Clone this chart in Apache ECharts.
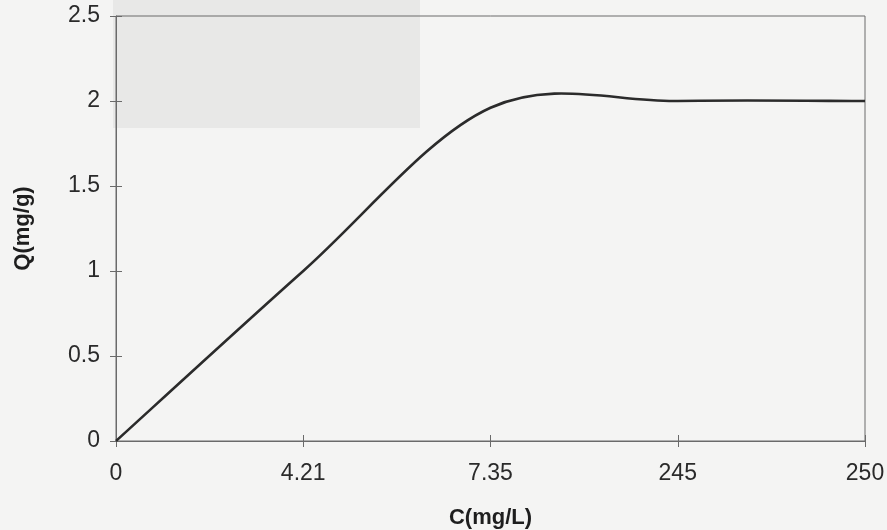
<!DOCTYPE html>
<html>
<head>
<meta charset="utf-8">
<script src="https://cdn.jsdelivr.net/npm/echarts@6/dist/echarts.min.js"></script>
<style>
  html, body { margin: 0; padding: 0; background: #f4f4f3; }
  #chart { width: 887px; height: 530px; }
</style>
</head>
<body>
<div id="chart"></div>
<script>
// concentraciones (eje x, categorias equiespaciadas)
var concentraciones = ['0', '4.21', '7.35', '245', '250'];
// capacidad de adsorcion Q (mg/g)
var qValores = [0, 1.0, 1.96, 2.0, 2.0];
var yTicks = [0, 0.5, 1, 1.5, 2, 2.5];

var chart = echarts.init(document.getElementById('chart'));
var fuente = '"Liberation Sans", Arial, sans-serif';
var gris = '#6a6a6a';

// curva suavizada tipo Excel (Catmull-Rom -> Bezier) sobre las coordenadas del eje
function renderCurva(params, api) {
    if (params.dataIndex !== 0) return null;
    var pts = qValores.map(function (v, i) { return api.coord([i, v]); });
    var d = 'M' + pts[0][0] + ' ' + pts[0][1];
    for (var i = 0; i < pts.length - 1; i++) {
        var p0 = pts[i - 1] || pts[i];
        var p1 = pts[i];
        var p2 = pts[i + 1];
        var p3 = pts[i + 2] || pts[i + 1];
        var c1x = p1[0] + (p2[0] - p0[0]) / 6, c1y = p1[1] + (p2[1] - p0[1]) / 6;
        var c2x = p2[0] - (p3[0] - p1[0]) / 6, c2y = p2[1] - (p3[1] - p1[1]) / 6;
        d += ' C' + c1x + ' ' + c1y + ' ' + c2x + ' ' + c2y + ' ' + p2[0] + ' ' + p2[1];
    }
    return {
        type: 'path',
        shape: { pathData: d },
        style: { fill: null, stroke: '#2b2b2b', lineWidth: 2.6 }
    };
}

chart.setOption({
    backgroundColor: '#f4f4f3',
    animation: false,
    graphic: [{
        type: 'rect',
        z: -10,
        shape: { x: 113, y: 0, width: 307, height: 128 },
        style: { fill: '#e8e8e7' }
    }],
    grid: {
        left: 116, right: 22, top: 16, bottom: 89,
        outerBoundsMode: 'none',
        containLabel: false,
        show: true, borderColor: gris, borderWidth: 1, backgroundColor: 'transparent'
    },
    xAxis: [{
        type: 'category',
        data: concentraciones,
        boundaryGap: false,
        name: 'C(mg/L)',
        nameLocation: 'middle',
        nameGap: 66,
        nameTextStyle: { fontFamily: fuente, fontWeight: 'bold', fontSize: 22, color: '#1e1e1e' },
        axisLine: { lineStyle: { color: gris, width: 1 } },
        axisTick: { length: 6, lineStyle: { color: gris } },
        axisLabel: { margin: 21, fontFamily: fuente, fontSize: 23, color: '#2a2a2a' },
        splitLine: { show: false }
    }, {
        type: 'category',
        data: concentraciones,
        boundaryGap: false,
        position: 'bottom',
        axisLine: { show: false },
        axisTick: { inside: true, length: 6, lineStyle: { color: gris } },
        axisLabel: { show: false },
        splitLine: { show: false }
    }],
    yAxis: [{
        type: 'value',
        min: yTicks[0], max: yTicks[yTicks.length - 1], interval: 0.5,
        name: 'Q(mg/g)',
        nameLocation: 'middle',
        nameGap: 82,
        nameRotate: 90,
        nameTextStyle: { fontFamily: fuente, fontWeight: 'bold', fontSize: 22, color: '#1e1e1e' },
        axisLine: { show: true, lineStyle: { color: gris, width: 1 } },
        axisTick: { show: true, length: 6, lineStyle: { color: gris } },
        axisLabel: { margin: 16, fontFamily: fuente, fontSize: 23, color: '#2a2a2a' },
        splitLine: { show: false }
    }, {
        type: 'value',
        position: 'left',
        min: yTicks[0], max: yTicks[yTicks.length - 1], interval: 0.5,
        axisLine: { show: false },
        axisTick: { show: true, inside: true, length: 6, lineStyle: { color: gris } },
        axisLabel: { show: false },
        splitLine: { show: false }
    }],
    series: [{
        type: 'custom',
        renderItem: renderCurva,
        data: qValores.map(function (v, i) { return [i, v]; }),
        encode: { x: 0, y: 1 },
        z: 5
    }]
});
</script>
</body>
</html>
